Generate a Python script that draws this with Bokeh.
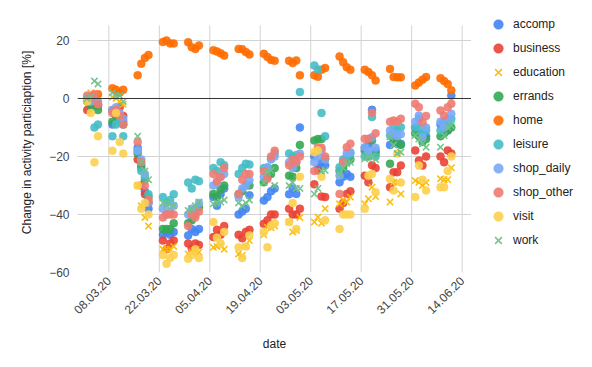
import math
import pandas as pd
from bokeh.plotting import figure
from bokeh.layouts import row
from bokeh.models import (Range1d, FixedTicker, DatetimeTickFormatter, Span,
                          Legend, LegendItem, ColumnDataSource)
from bokeh.embed import file_html
from bokeh.resources import INLINE

# ---- data -------------------------------------------------------------
week_starts = ["2020-03-02", "2020-03-09", "2020-03-16", "2020-03-23", "2020-03-30",
               "2020-04-06", "2020-04-13", "2020-04-20", "2020-04-27", "2020-05-04",
               "2020-05-11", "2020-05-18", "2020-05-25", "2020-06-01", "2020-06-08"]
days_per_week = 4  # Mon..Thu
dates = [pd.Timestamp(w) + pd.Timedelta(days=d) for w in week_starts for d in range(days_per_week)]

tick_dates = ["2020-03-08", "2020-03-22", "2020-04-05", "2020-04-19",
              "2020-05-03", "2020-05-17", "2020-05-31", "2020-06-14"]
y_ticks = [-60, -40, -20, 0, 20]

accomp = [-1, 0, -1, -2,  -9, -5, -6, -8,  -17, -23, -32, -38,  -47, -46, -47, -46,
          -47.2, -45, -46, -45,  -34, -37, -33, -31,  -40, -39, -38, -33.4,  -35.2, -34, -32, -31,
          -33, -31, -32.9, -10,  -20, -24, -22, -23,  -28.9, -27, -26, -27,  -17, -16, -3.9, -18,
          -16, -14, -15.6, -15.6,  -10, -7, -12, -13,  -9, -8, -11, 1]
business = [-4, -2, -1, -2.5,  -4, -5, -3, -6,  -21, -30, -33, -36,  -49, -52, -50, -49,
            -50, -51.8, -50, -50.5,  -47.8, -45.3, -47, -44,  -47, -48.2, -46, -45.3,  -43.2, -42, -40, -40,
            -38, -40, -40, -38,  -29.6, -24.8, -33.8, -34,  -38, -36, -32.9, -32,  -26.6, -28.9, -23, -24,
            -30.6, -25.4, -25.4, -23.1,  -17.9, -21.4, -23.1, -20,  -20, -22, -17.9, -19]
education = [0, 2, 1, 0,  0.5, 0, -1, -2,  -30, -37, -41, -44,  -52, -52, -52, -51,
             -53.6, -53, -52.5, -53,  -51.3, -51, -50.7, -52,  -53.6, -54.1, -51, -49,  -47, -44.4, -44.6, -44,
             -42.6, -46, -45.5, -41,  -42.6, -40.9, -43, -38,  -36.3, -35, -35.7, -34,  -36.3, -34.6, -30.6, -33.8,
             -35.7, -28.9, -28.9, -32.9,  -28.3, -28.9, -30, -29,  -27.7, -28, -28, -23.9]
errands = [-1, -3, -2, -4,  -8, -6, -7, -9,  -19, -24, -28, -34,  -45, -45, -45, -43,
           -43, -42, -40, -37.5,  -32.9, -34, -31.4, -30,  -33, -32, -30, -30,  -28.9, -27, -26, -24,
           -26.6, -27, -24, -16,  -14.5, -14, -14, -20.8,  -25, -24, -22, -21,  -18, -20, -14.5, -19,
           -22.5, -14, -15, -16,  -12, -13, -15, -14,  -13, -12, -11, -10]
home = [0, 0.5, 1, 1.5,  3.5, 3, 2, 3,  8, 12, 14, 15,  19.5, 20, 19, 19,
        19.4, 17.7, 17.1, 18.3,  16.6, 16.2, 15.6, 14.8,  17.1, 17, 16, 15.2,  15.4, 14.3, 13.3, 13,
        13, 12.2, 13.1, 8,  8, 7.5, 9.9, 10.5,  14.5, 12.5, 10.8, 9.9,  9.9, 9.1, 8, 6.2,
        10.2, 7.4, 7.3, 7.3,  4.5, 5.5, 6.5, 7.4,  7, 6, 5, 2.8]
leisure = [0, -1, -10, -9,  -13, -9, -8, -13,  -18, -25, -27, -33,  -34, -36, -35, -33,
           -29, -31, -28, -28.5,  -24, -25, -22, -23,  -26, -24, -22.5, -22.8,  -24, -23.7, -20.8, -19,
           -19, -20, -19.5, 2.2,  11.4, 10, -5, -13,  -23.7, -21, -20, -19,  -20, -19, -6.4, -20,
           -12.8, -10.3, -11, -9.9,  -9.9, -9.9, -12, -11,  -11, -10, -9, -7]
shop_daily = [0, -1, 0, -1,  -4, -3, -5, -7,  -18, -21, -26, -36,  -38, -40, -39, -37,
              -40, -38, -38, -36,  -30, -29, -27, -26,  -34, -31, -30, -28.3,  -27, -24, -21, -20,
              -22, -24, -22, -19,  -22, -20, -18, -21,  -26.6, -22, -18.8, -18.5,  -16.8, -18, -13.4, -17,
              -11, -12, -13, -12.3,  -8, -5.9, -13.3, -10,  -8, -10, -7, -5.3]
shop_other = [1, 0, 1.5, -2,  -5, -4, -6, -9,  -15, -22, -30, -35,  -41, -40, -40, -40,
              -44, -40, -41, -39,  -26, -28.5, -27, -24,  -32.9, -28, -26, -26,  -25, -27.7, -20, -18,
              -23, -21, -22, -20,  -25, -16.8, -17, -20,  -32.9, -22, -16.8, -15.6,  -13.9, -13.9, -4.9, -12,
              -8, -7.6, -7.9, -7,  -1.8, -3, -8.2, -6,  -4.1, -5.9, -3, -1.8]
visit = [-1, -5, -22, -13,  -18, -5, -15, -19,  -30, -38, -36, -40,  -54, -57, -55, -54,
         -55.3, -54, -52, -55,  -42.6, -48, -50, -46,  -51.3, -55, -51, -47.2,  -46, -51.3, -43.8, -43,
         -42.6, -36, -45, -27,  -18.5, -17.9, -27, -42,  -45, -40, -40, -40,  -38, -26.6, -26, -32.3,
         -27.7, -31.7, -19, -29,  -34, -23.1, -28, -31.7,  -30.6, -30.6, -25, -20]
work = [0, 0.5, 6, 5,  2, 1, 1, -1,  -13, -22, -25, -28,  -36, -37, -36, -37,
        -38.6, -38, -37, -35.7,  -36.3, -36, -35.7, -35,  -36, -37, -36, -35,  -29, -25.4, -24.8, -30,
        -30, -29, -31, -31,  -32.9, -31, -25, -24.8,  -26, -24, -22.4, -22,  -20.8, -20.2, -20, -21,
        -13.3, -16, -19, -18.5,  -12.8, -14, -15.6, -16.8,  -16.8, -12.8, -10, -9.3]

series_names = ["accomp", "business", "education", "errands", "home",
                "leisure", "shop_daily", "shop_other", "visit", "work"]
series_values = [accomp, business, education, errands, home,
                 leisure, shop_daily, shop_other, visit, work]
series_colors = ["#4285F4", "#EA4335", "#FBBC04", "#34A853", "#FF6D01",
                 "#46BDC6", "#7BAAF7", "#F07B72", "#FCD04F", "#71C287"]
series_markers = ["circle", "circle", "x", "circle", "circle",
                  "circle", "circle", "circle", "circle", "x"]

# ---- main figure ------------------------------------------------------
FONT = "Liberation Sans"
GRID = "#d3d3d3"
ref = pd.Timestamp("2020-03-08")
x_start = ref - pd.Timedelta(days=8.69)
x_end = ref + pd.Timedelta(days=100.6)
y_bottom = -60
y_plot_top = 25.17          # top of the plotting area
y_canvas_top = 29.65        # a little head-room so the legend can sit higher

p = figure(frame_width=394, frame_height=260, x_axis_type="datetime",
           x_range=Range1d(x_start, x_end), y_range=Range1d(y_bottom, y_canvas_top),
           output_backend="svg", toolbar_location=None,
           min_border_left=77, min_border_right=0, min_border_top=12, min_border_bottom=87)
p.outline_line_color = None
p.background_fill_color = "white"
p.border_fill_color = "white"

tick_ts = [pd.Timestamp(t) for t in tick_dates]
tick_ms = [t.value // 10**6 for t in tick_ts]
p.xaxis.ticker = FixedTicker(ticks=tick_ms)
fmt = "%d.%m.%y"
p.xaxis.formatter = DatetimeTickFormatter(
    milliseconds=fmt, seconds=fmt, minsec=fmt, minutes=fmt, hourmin=fmt, hours=fmt,
    days=fmt, months=fmt, years=fmt)
p.xaxis.major_label_orientation = math.pi / 4
p.yaxis.ticker = FixedTicker(ticks=y_ticks)

for ax in (p.xaxis[0], p.yaxis[0]):
    ax.axis_line_color = None
    ax.major_tick_line_color = None
    ax.minor_tick_line_color = None
    ax.major_tick_out = 0
    ax.major_tick_in = 0
    ax.major_label_text_font = FONT
    ax.major_label_text_font_size = "12px"
    ax.major_label_text_color = "#444444"
    ax.axis_label_text_font = FONT
    ax.axis_label_text_font_size = "12px"
    ax.axis_label_text_font_style = "normal"
    ax.axis_label_text_color = "#222222"

p.xaxis.axis_label = "date"
p.yaxis.axis_label = "Change in activity particiaption [%]"
p.xaxis.major_label_standoff = 6
p.yaxis.major_label_standoff = 8
p.xaxis.axis_label_standoff = 16
p.yaxis.axis_label_standoff = 12

# horizontal grid from the library; vertical grid lines limited to the plot area
p.ygrid.grid_line_color = GRID
p.ygrid.grid_line_width = 1
p.xgrid.visible = False
p.segment(x0=tick_ts, y0=[y_bottom] * len(tick_ts), x1=tick_ts, y1=[y_plot_top] * len(tick_ts),
          line_color=GRID, line_width=1)

p.add_layout(Span(location=0, dimension="width", line_color="#333333", line_width=1))

def draw_series(fig, xs, ys, col, mk, size):
    src = ColumnDataSource(dict(date=xs, value=ys))
    if mk == "circle":
        return fig.scatter("date", "value", source=src, marker="circle", size=size,
                           fill_color=col, line_color=col, fill_alpha=0.9, line_alpha=0.9,
                           line_width=0.5)
    return fig.scatter("date", "value", source=src, marker="x", size=size + 1,
                       line_color=col, line_width=1.6, line_alpha=0.95)

for name, vals, col, mk in zip(series_names, series_values, series_colors, series_markers):
    draw_series(p, dates, vals, col, mk, 8)

# ---- legend panel (separate figure so it is not clipped) ---------------
lg = figure(width=113, height=359, x_axis_location=None, y_axis_location=None,
            x_range=Range1d(0, 1), y_range=Range1d(0, 1),
            output_backend="svg", toolbar_location=None,
            min_border_left=0, min_border_right=0, min_border_top=12, min_border_bottom=87)
lg.outline_line_color = None
lg.grid.visible = False
lg.background_fill_color = "white"
lg.border_fill_color = "white"

items = []
for name, vals, col, mk in zip(series_names, series_values, series_colors, series_markers):
    # same series, drawn on a range where they fall outside: only the legend swatch shows
    r = draw_series(lg, dates, vals, col, mk, 8)
    items.append(LegendItem(label=name, renderers=[r]))

legend = Legend(items=items, location=(15, 20))
legend.padding = 0
legend.margin = 0
legend.border_line_alpha = 0
legend.background_fill_alpha = 0
legend.glyph_width = 24
legend.glyph_height = 24
legend.label_height = 24
legend.spacing = 0
legend.label_standoff = 3
legend.label_text_font = FONT
legend.label_text_font_size = "12px"
legend.label_text_color = "#222222"
lg.add_layout(legend)

layout = row(p, lg)
open("out.html", "w").write(file_html(layout, INLINE))
